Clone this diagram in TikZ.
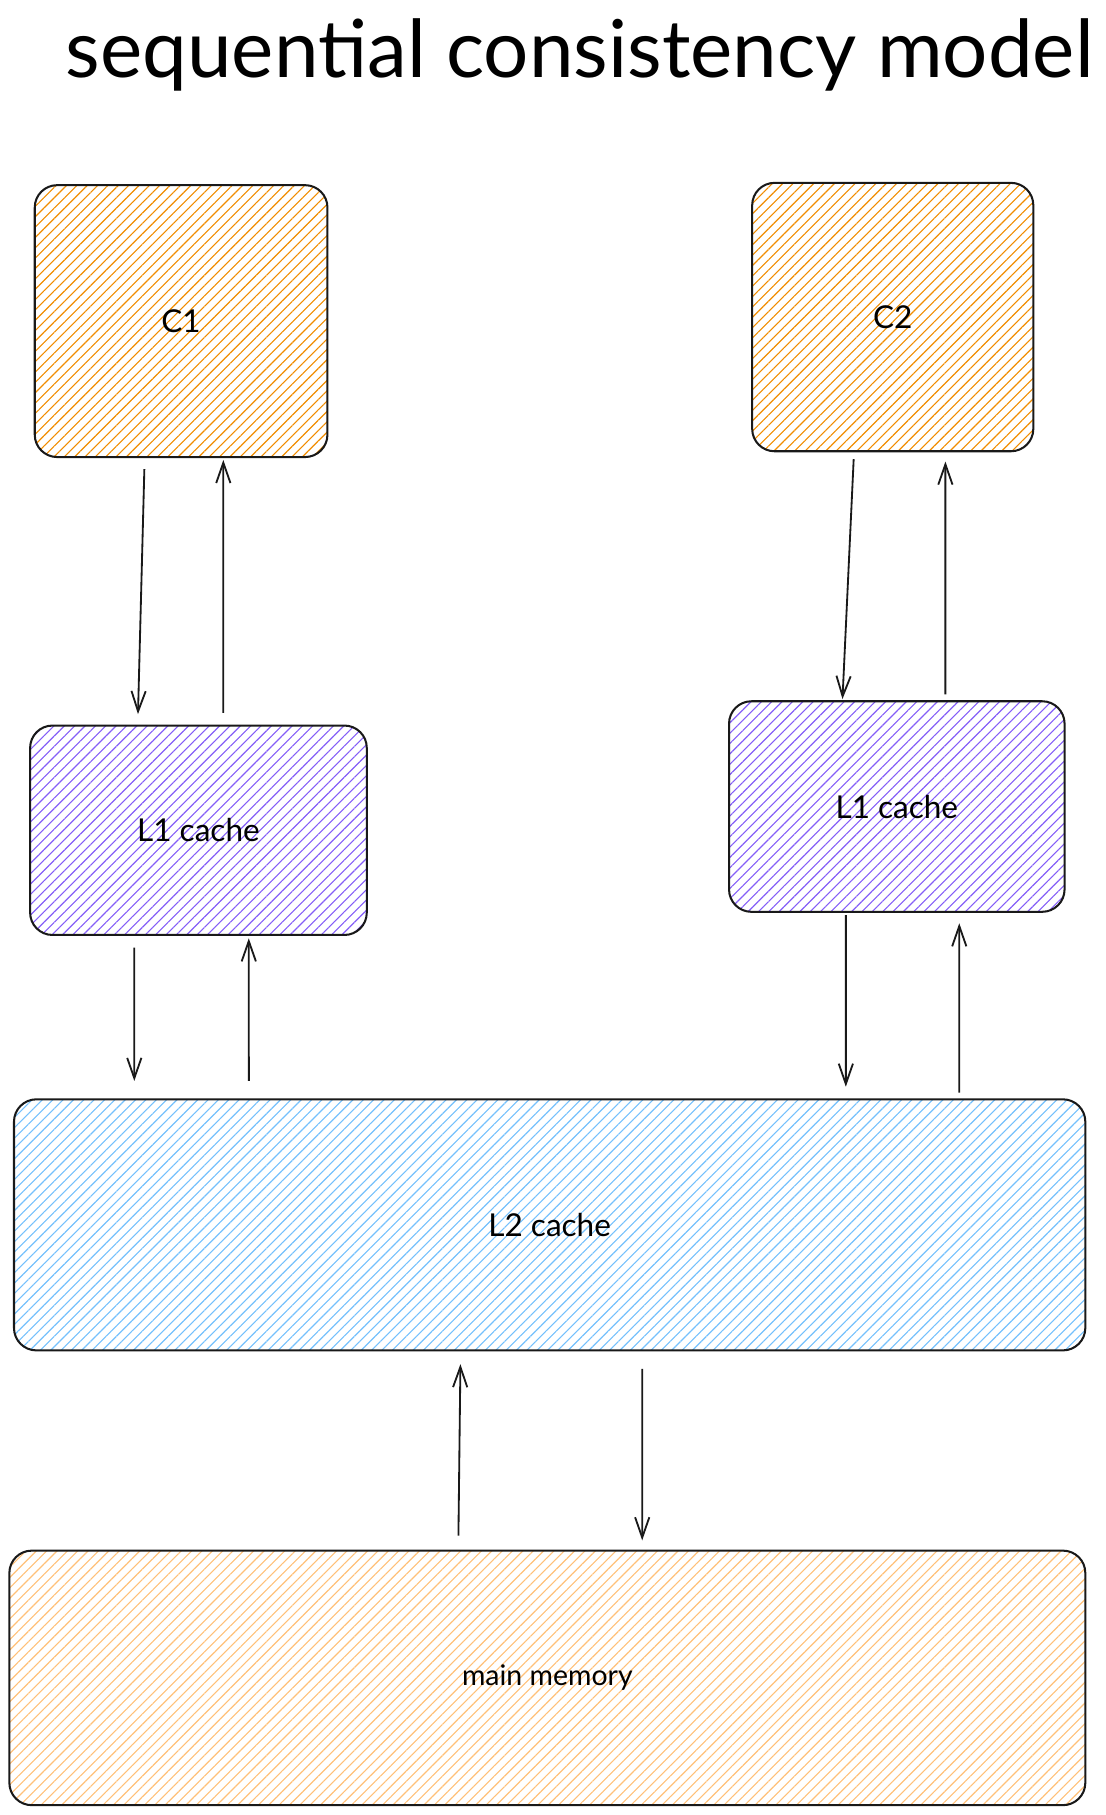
\documentclass[tikz,border=0pt]{standalone}
\usepackage{fontspec}
\setmainfont{Lato}
\usepackage{tikz}
\usetikzlibrary{arrows.meta, patterns.meta}

\definecolor{corecol}{HTML}{F08C00}
\definecolor{lonecol}{HTML}{845EF7}
\definecolor{ltwocol}{HTML}{74C0FC}
\definecolor{memcol}{HTML}{FFC078}

\tikzset{
  unit/.style = {draw = black!90, line width = 1pt, rounded corners = 11pt,
                 font = \fontsize{15.5}{18}\selectfont, inner sep = 0pt},
  hatch/.style = {pattern = {Lines[angle = 45, distance = 3.6pt, line width = 0.55pt]},
                  pattern color = #1},
  link/.style = {->, draw = black!90, line width = 0.9pt},
  >={Straight Barb[length = 10pt, width = 7pt]}
}

\begin{document}
\begin{tikzpicture}[x = 0.02cm, y = -0.02cm]
\useasboundingbox (0,0) rectangle (955,1568.5);

\node[anchor = base, font = \fontsize{39.3}{47}\selectfont] (title) at (501,67) {sequential consistency model};

\node[unit, hatch = corecol, minimum width = 5.06cm, minimum height = 4.7cm]  (c1) at (156.5,277.5) {C1};
\node[unit, hatch = corecol, minimum width = 4.86cm, minimum height = 4.64cm] (c2) at (771.5,274) {C2};
\node[unit, hatch = lonecol, minimum width = 5.82cm, minimum height = 3.62cm] (l1a) at (171.5,717.5) {L1 cache};
\node[unit, hatch = lonecol, minimum width = 5.8cm, minimum height = 3.64cm]  (l1b) at (775,697) {L1 cache};
\node[unit, hatch = ltwocol, minimum width = 18.52cm, minimum height = 4.34cm] (l2) at (475,1058.5) {L2 cache};
\node[unit, hatch = memcol, minimum width = 18.6cm, minimum height = 4.4cm,
      font = \fontsize{14}{17}\selectfont] (mem) at (473,1450) {main memory};

% left core
\draw[link, shorten < = 0.2cm, shorten > = 0.18cm] ([xshift = -0.63cm]c1.south) -- ([xshift = -1.05cm]l1a.north);
\draw[link, shorten < = 0.2cm, shorten > = 0.04cm] ([xshift = 0.43cm]l1a.north) -- ([xshift = 0.73cm]c1.south);
\draw[link, shorten < = 0.2cm, shorten > = 0.3cm] ([xshift = -1.11cm]l1a.south) -- ([xshift = -7.18cm]l2.north);
\draw[link, shorten < = 0.3cm, shorten > = 0.04cm] ([xshift = -5.2cm]l2.north) -- ([xshift = 0.87cm]l1a.south);

% right core
\draw[link, shorten < = 0.12cm, shorten > = 0.02cm] ([xshift = -0.67cm]c2.south) -- ([xshift = -0.94cm]l1b.north);
\draw[link, shorten < = 0.1cm, shorten > = 0.16cm] ([xshift = 0.84cm]l1b.north) -- ([xshift = 0.91cm]c2.south);
\draw[link, shorten < = 0.04cm, shorten > = 0.2cm] ([xshift = -0.88cm]l1b.south) -- ([xshift = 5.12cm]l2.north);
\draw[link, shorten < = 0.1cm, shorten > = 0.18cm] ([xshift = 7.08cm]l2.north) -- ([xshift = 1.08cm]l1b.south);

% memory
\draw[link, shorten < = 0.24cm, shorten > = 0.22cm] ([xshift = -1.54cm]mem.north) -- ([xshift = -1.54cm]l2.south);
\draw[link, shorten < = 0.3cm, shorten > = 0.16cm] ([xshift = 1.6cm]l2.south) -- ([xshift = 1.64cm]mem.north);
\end{tikzpicture}
\end{document}
